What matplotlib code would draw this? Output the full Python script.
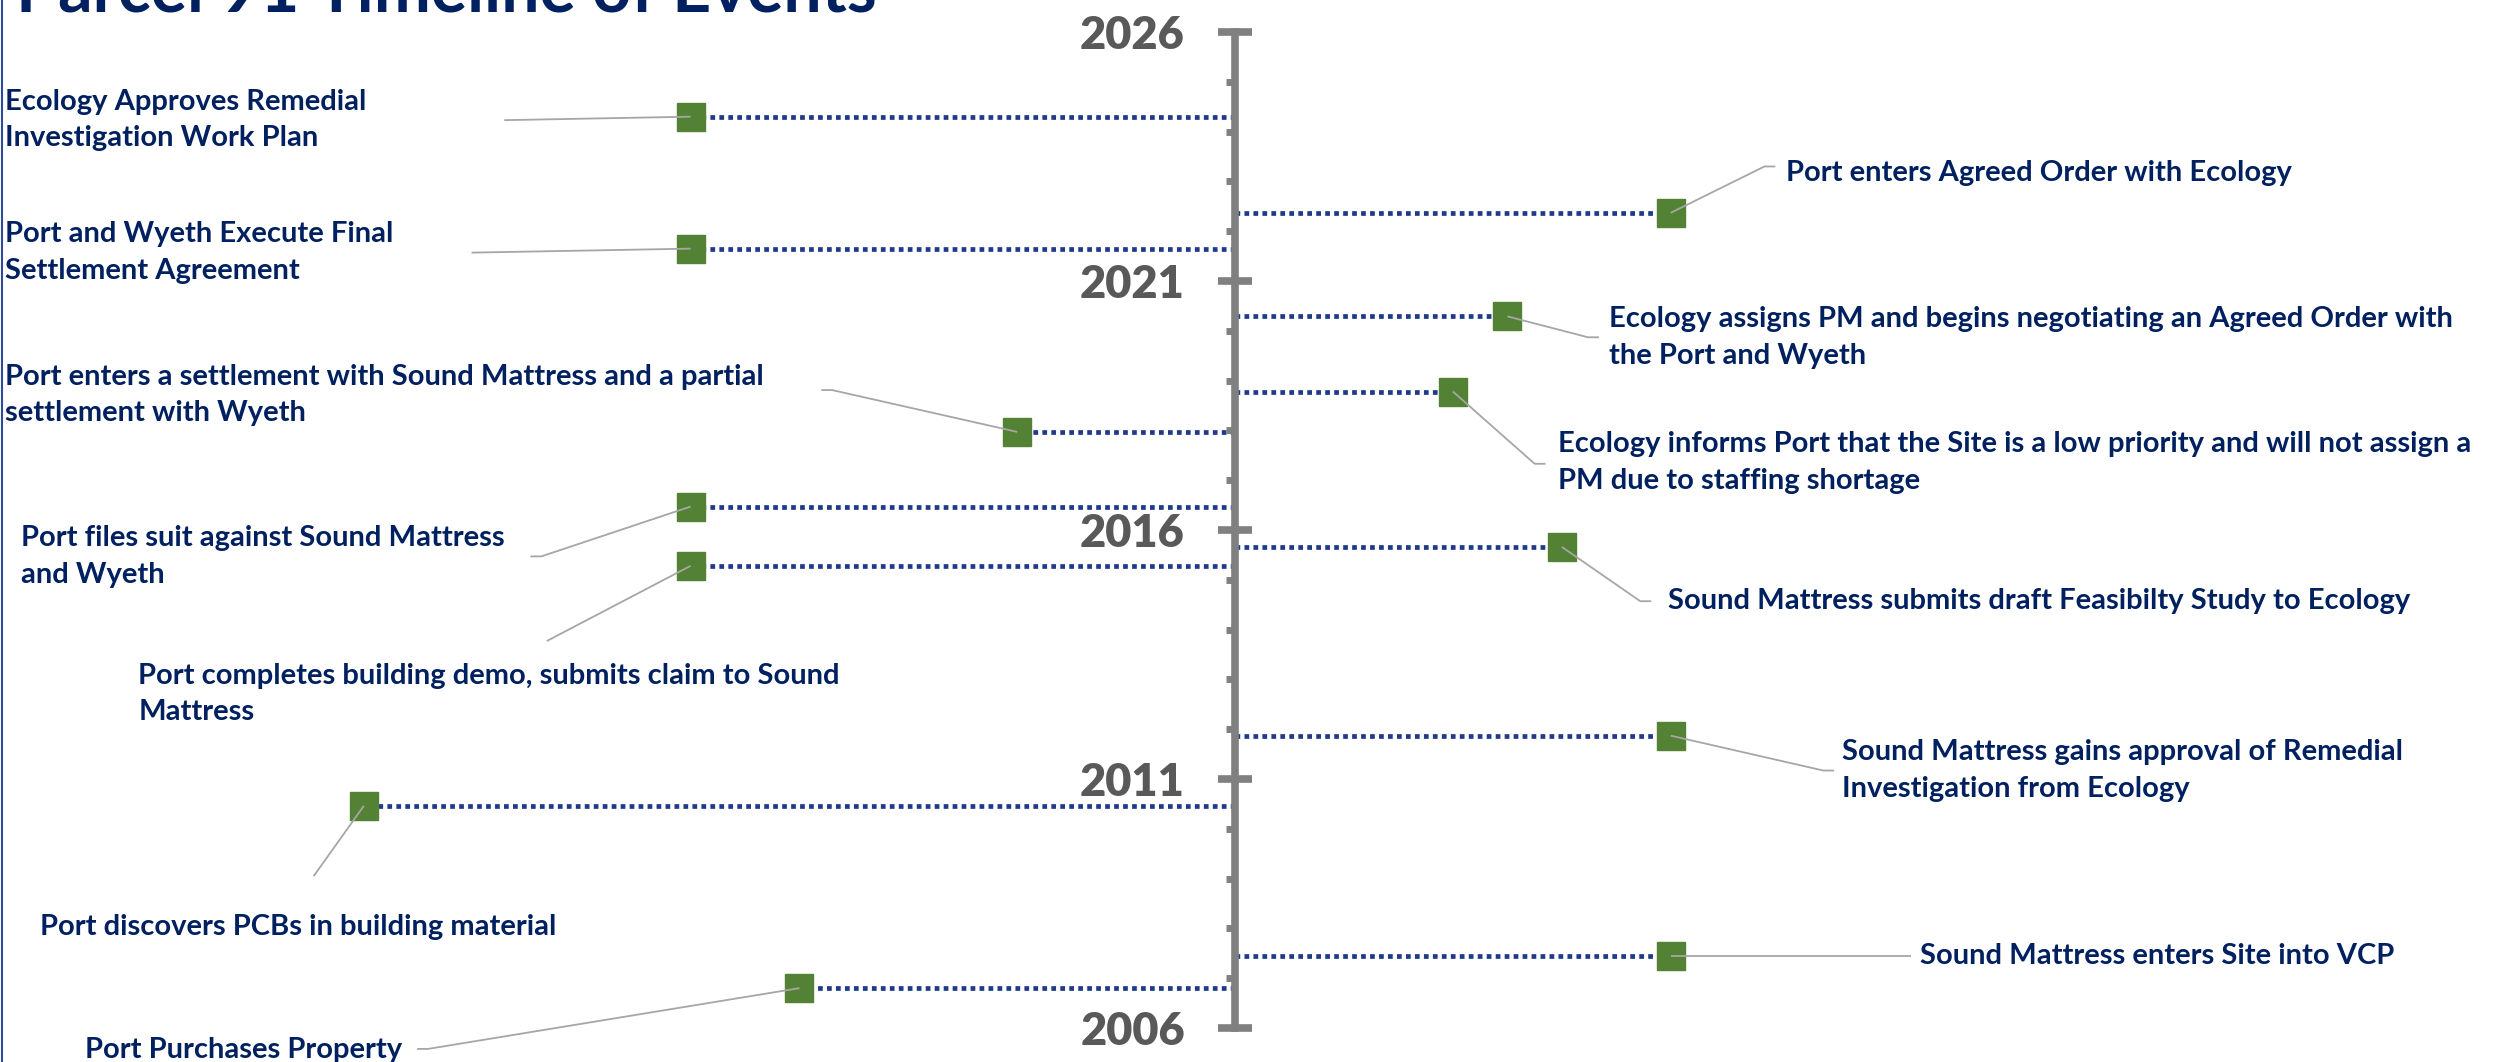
import matplotlib.pyplot as plt
import numpy as np

# events of the timeline (left side = negative offset, right side = positive)
events = [
    "Ecology Approves Remedial\nInvestigation Work Plan",
    "Port and Wyeth Execute Final\nSettlement Agreement",
    "Port enters a settlement with Sound Mattress and a partial\nsettlement with Wyeth",
    "Port files suit against Sound Mattress\nand Wyeth",
    "Port completes building demo, submits claim to Sound\nMattress",
    "Port discovers PCBs in building material",
    "Port Purchases Property",
    "Port enters Agreed Order with Ecology",
    "Ecology assigns PM and begins negotiating an Agreed Order with\nthe Port and Wyeth",
    "Ecology informs Port that the Site is a low priority and will not assign a\nPM due to staffing shortage",
    "Sound Mattress submits draft Feasibilty Study to Ecology",
    "Sound Mattress gains approval of Remedial\nInvestigation from Ecology",
    "Sound Mattress enters Site into VCP",
]
dates = [2024.30, 2021.65, 2017.97, 2016.47, 2015.28, 2010.46, 2006.80,
         2022.37, 2020.29, 2018.78, 2015.66, 2011.87, 2007.44]
heights = [-5, -5, -2, -5, -5, -8, -4, 4, 2.5, 2, 3, 4, 4]

# where the labels sit (left edge x, centre y) and where the leader lines end
label_x = [-11.29, -11.29, -11.29, -11.15, -10.07, -10.97, -10.56,
           5.06, 3.43, 2.96, 3.97, 5.57, 6.29]
label_y = [2024.23, 2021.57, 2018.71, 2015.47, 2012.71, 2008.02, 2005.55,
           2023.17, 2019.87, 2017.36, 2014.57, 2011.17, 2007.44]
leader_x = [-6.71, -7.01, -3.80, -6.47, -6.32, -8.46, -7.51,
            4.96, 3.34, 2.85, 3.82, 5.50, 6.21]
leader_y = [2024.23, 2021.57, 2018.81, 2015.47, 2013.77, 2009.05, 2005.58,
            2023.30, 2019.87, 2017.33, 2014.57, 2011.17, 2007.44]
hook = [0, 0, 0.1, 0.1, 0, 0, 0.1, 0.1, 0.1, 0.1, 0.1, 0.1, 0]

major_years = [2006, 2011, 2016, 2021, 2026]
minor_years = list(range(2006, 2027))

navy = "#002060"
font = ["Lato", "DejaVu Sans"]

fig = plt.figure(figsize=(25.04, 10.62), dpi=100)
ax = fig.add_axes([0, 0, 1, 1])
ax.set_xlim(-11.34, 11.65)
ax.set_ylim(2005.317, 2026.643)

# dotted connectors from axis to the markers
ax.hlines(dates, 0, heights, colors="#1F3A8A", linewidth=3.4,
          linestyles=(0, (1, 0.9)), zorder=1)
ax.plot(heights, dates, "s", color="#548235", markersize=19.5, zorder=3)

# leader lines + labels
for i, txt in enumerate(events):
    d = -1 if heights[i] < 0 else 1
    xs = [heights[i], leader_x[i] - d * hook[i], leader_x[i]]
    ys = [dates[i], leader_y[i], leader_y[i]]
    ax.plot(xs, ys, color="#A6A6A6", linewidth=1.3, zorder=4,
            solid_capstyle="butt")
    ax.text(label_x[i], label_y[i], txt, ha="left", va="center",
            color=navy, fontsize=21, fontweight="bold", family=font,
            linespacing=1.5, zorder=5)

# the time axis itself
for s in ["top", "right", "bottom"]:
    ax.spines[s].set_visible(False)
ax.spines["left"].set_position(("data", 0))
ax.spines["left"].set_bounds(2006, 2026)
ax.spines["left"].set_color("#808080")
ax.spines["left"].set_linewidth(5.5)
ax.set_xticks([])
ax.set_yticks(major_years)
ax.set_yticks(minor_years, minor=True)
ax.tick_params(axis="y", which="major", direction="inout", length=24.5,
               width=5.5, color="#808080", pad=24, labelsize=32.5,
               labelcolor="#595959")
ax.tick_params(axis="y", which="minor", direction="out", length=6.5,
               width=5, color="#808080")
for lab in ax.get_yticklabels():
    lab.set_fontweight("heavy")
    lab.set_family(font)

ax.patch.set_alpha(0)

# title, partly cut by the top edge
fig.text(16 / 2504, 1 - 11 / 1062, "Parcel 91 Timeline of Events", ha="left",
         va="baseline", color=navy, fontsize=49, fontweight="bold", family=font)

# thin blue border at the left
fig.add_artist(plt.Line2D([0.0006, 0.0006], [0, 1], color="#2E4A9E",
                          linewidth=1.5, transform=fig.transFigure))

fig.savefig("out.png", dpi=100)
